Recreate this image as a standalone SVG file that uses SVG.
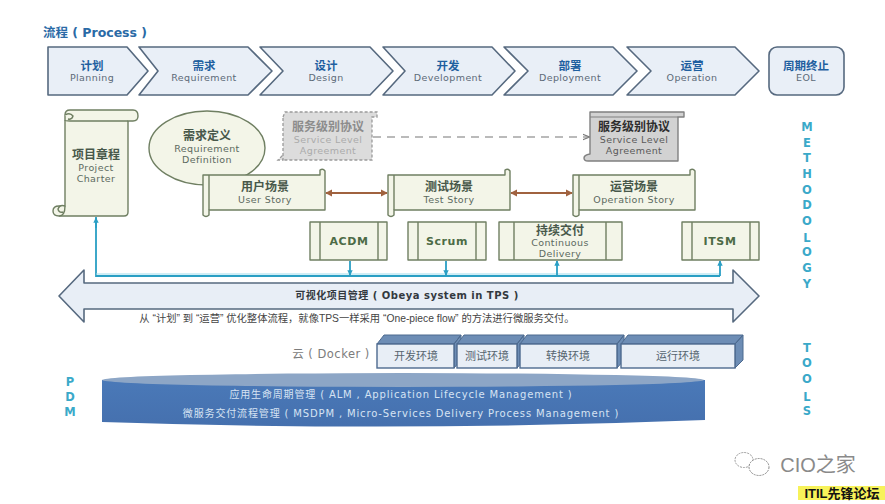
<svg xmlns="http://www.w3.org/2000/svg" width="885" height="504" viewBox="0 0 885 504">
<style>
text{font-family:"DejaVu Sans","Noto Sans CJK SC",sans-serif;text-anchor:middle}
.cn{font-size:11.5px;font-weight:bold;fill:#1f5f9f}
.en{font-size:9.5px;letter-spacing:.4px;fill:#5c6a78}
.p{fill:#e9eff7;stroke:#56697f;stroke-width:1.6;stroke-linejoin:round}
.sc{fill:#f3f5e8;stroke:#6f7f62;stroke-width:1.4;stroke-linejoin:round}
.scn{font-size:12px;font-weight:bold;fill:#48584a}
.sen{font-size:9.5px;letter-spacing:.4px;fill:#5c6a60}
.big{font-size:11px;font-weight:bold;fill:#4d6b46;letter-spacing:.6px}
.v{font-size:11.5px;font-weight:bold;fill:#3aa9c9}
.env{font-size:11px;fill:#56646f}
.cy{stroke:#2a9fc4;stroke-width:1.8;fill:none}
.cyl{font-size:10px;fill:#d6e3f3;letter-spacing:.85px}
</style>
<defs>
<marker id="br" viewBox="0 0 8 8" refX="7" refY="4" markerWidth="4" markerHeight="4" orient="auto-start-reverse"><path d="M0 0L8 4L0 8z" fill="#a0623f"/></marker>
<marker id="bl" viewBox="0 0 8 8" refX="7" refY="4" markerWidth="3" markerHeight="3" orient="auto"><path d="M0 0L8 4L0 8z" fill="#2a9fc4"/></marker>
<marker id="gr" viewBox="0 0 8 8" refX="7" refY="4" markerWidth="6" markerHeight="6" orient="auto"><path d="M0 1L8 4L0 7" fill="none" stroke="#777" stroke-width="1.3"/></marker>
<linearGradient id="cyb" x1="0" y1="0" x2="0" y2="1"><stop offset="0" stop-color="#4a79b8"/><stop offset="1" stop-color="#4570ae"/></linearGradient>
</defs>
<rect width="885" height="504" fill="#fff"/>

<text id="title" x="95" y="37" font-size="12.5" font-weight="bold" fill="#2a6aa6">流程 ( Process )</text>

<g id="process-planning"><path class="p" d="M48 47H127L148 71L127 95H48Z"/><text class="cn" x="92" y="70">计划</text><text class="en" x="92" y="81">Planning</text></g>
<g id="process-requirement"><path class="p" d="M139 47H248L272 71L248 95H139L158 71Z"/><text class="cn" x="204" y="70">需求</text><text class="en" x="204" y="81">Requirement</text></g>
<g id="process-design"><path class="p" d="M260 47H370L393 71L370 95H260L283 71Z"/><text class="cn" x="326" y="70">设计</text><text class="en" x="326" y="81">Design</text></g>
<g id="process-development"><path class="p" d="M383 47H492L515 71L492 95H383L405 71Z"/><text class="cn" x="448" y="70">开发</text><text class="en" x="448" y="81">Development</text></g>
<g id="process-deployment"><path class="p" d="M504 47H613L637 71L613 95H504L528 71Z"/><text class="cn" x="570" y="70">部署</text><text class="en" x="570" y="81">Deployment</text></g>
<g id="process-operation"><path class="p" d="M627 47H735L759 71L735 95H627L651 71Z"/><text class="cn" x="692" y="70">运营</text><text class="en" x="692" y="81">Operation</text></g>
<g id="process-eol"><rect class="p" x="769" y="47" width="75" height="48" rx="8"/><text class="cn" x="806" y="70">周期终止</text><text class="en" x="806" y="81">EOL</text></g>

<g id="connectors">
<path d="M96 217V276H720" class="cy"/>
<path d="M96 274H720" stroke="#9fdcec" stroke-width="1" fill="none"/>
<path d="M96 228V218" class="cy" marker-end="url(#bl)"/>
<path d="M350 261V275" class="cy" marker-end="url(#bl)"/>
<path d="M446 261V275" class="cy" marker-end="url(#bl)"/>
<path d="M557 276V261" class="cy" marker-end="url(#bl)"/>
<path d="M720 276V261" class="cy" marker-end="url(#bl)"/>
<path d="M326 193H387" stroke="#a0623f" stroke-width="1.8" marker-start="url(#br)" marker-end="url(#br)"/>
<path d="M511 193H572" stroke="#a0623f" stroke-width="1.8" marker-start="url(#br)" marker-end="url(#br)"/>
<path d="M373 137H589" stroke="#777" stroke-width="1.2" stroke-dasharray="8 6" fill="none" marker-end="url(#gr)"/>
</g>

<g id="project-charter">
<path class="sc" d="M65 120V206H59Q53 206 53 211Q53 216 59 216H124Q128 216 128 212V121H133Q138 121 138 116Q138 110 133 110H70Q65 110 65 115Z"/>
<path class="sc" fill="none" d="M65 120Q65 121 70 121H128M65 115Q70 112 73 116Q72 120 68 119M65 206Q65 216 59 216M65 206Q60 204 58 209Q59 213 63 212"/>
<text class="scn" x="96" y="159">项目章程</text><text class="sen" x="96" y="171">Project</text><text class="sen" x="96" y="182">Charter</text>
</g>

<g id="requirement-definition">
<ellipse class="sc" cx="207" cy="148" rx="58" ry="37"/>
<text class="scn" x="207" y="140">需求定义</text><text class="sen" x="207" y="152">Requirement</text><text class="sen" x="207" y="163">Definition</text>
</g>

<g id="sla-draft">
<path d="M283 118V160H278L283 155M283 117L285 112H377V117H372V160H283" fill="#dcdcdc" stroke="#9a9a9a" stroke-width="1.3" stroke-dasharray="3 2"/>
<text class="scn" x="328" y="131" style="fill:#8c8c8c">服务级别协议</text><text class="sen" style="fill:#ababab" x="328" y="143">Service Level</text><text class="sen" style="fill:#ababab" x="328" y="154">Agreement</text>
</g>
<g id="sla">
<path d="M590 112H684V117H678V161H588Q584 161 584 158Q584 155 590 154Z" fill="#d2d2d2" stroke="#808080" stroke-width="1.4" stroke-linejoin="round"/>
<path d="M590 117H678" stroke="#808080" fill="none"/>
<text class="scn" x="634" y="131" style="fill:#2e2e2e">服务级别协议</text><text class="sen" style="fill:#5a5a5a" x="634" y="143">Service Level</text><text class="sen" style="fill:#5a5a5a" x="634" y="154">Agreement</text>
</g>

<g id="user-story">
<path class="sc" d="M209 175H320V170Q323 168 325 171V210H209V215Q206 218 203 215V175Z"/>
<path class="sc" d="M209 175V210"/>
<text class="scn" x="265" y="191">用户场景</text><text class="sen" x="265" y="203">User Story</text>
</g>
<g id="test-story">
<path class="sc" d="M394 175H505V170Q508 168 510 171V210H394V215Q391 218 388 215V175Z"/>
<path class="sc" d="M394 175V210"/>
<text class="scn" x="449" y="191">测试场景</text><text class="sen" x="449" y="203">Test Story</text>
</g>
<g id="operation-story">
<path class="sc" d="M579 175H690V170Q693 168 695 171V210H579V215Q576 218 573 215V175Z"/>
<path class="sc" d="M579 175V210"/>
<text class="scn" x="634" y="191">运营场景</text><text class="sen" x="634" y="203">Operation Story</text>
</g>

<g id="acdm"><rect class="sc" x="310" y="222" width="77" height="38"/><path class="sc" d="M320 222V260M378 222V260"/><text class="big" x="349" y="245">ACDM</text></g>
<g id="scrum"><rect class="sc" x="408" y="222" width="78" height="38"/><path class="sc" d="M418 222V260M476 222V260"/><text class="big" x="447" y="245">Scrum</text></g>
<g id="continuous-delivery"><rect class="sc" x="499" y="222" width="123" height="38"/><path class="sc" d="M514 222V260M606 222V260"/><text class="scn" x="560" y="235">持续交付</text><text class="sen" x="560" y="246">Continuous</text><text class="sen" x="560" y="257">Delivery</text></g>
<g id="itsm"><rect class="sc" x="682" y="222" width="77" height="38"/><path class="sc" d="M692 222V260M750 222V260"/><text class="big" x="720" y="245">ITSM</text></g>

<g id="obeya">
<path d="M59 296L84 270V283H733V270L759 296L733 322V309H84V322Z" fill="#e8eef6" stroke="#56697f" stroke-width="1.6" stroke-linejoin="round"/>
<text x="407" y="299" font-size="10" font-weight="bold" fill="#33393f" letter-spacing=".5">可视化项目管理 ( Obeya system in TPS )</text>
<text x="357" y="322" font-size="10.3" fill="#444" style="font-family:'Liberation Sans','Noto Sans CJK SC',sans-serif">从 “计划” 到 “运营” 优化整体流程，就像TPS一样采用 “One-piece flow” 的方法进行微服务交付。</text>
</g>

<text id="docker-label" x="331" y="358" font-size="11.5" fill="#7c7c7c" letter-spacing=".5">云 ( Docker )</text>
<g id="env-dev"><path d="M377 344L384 335H461L454 344ZM454 344L461 335V360L454 368Z" fill="#6d8db5" stroke="#4d6a8f"/><rect x="377" y="344" width="77" height="24" fill="#e8eef6" stroke="#4d6a8f" stroke-width="1.4"/><text class="env" x="416" y="360">开发环境</text></g>
<g id="env-test"><path d="M457 344L464 335H524L517 344ZM517 344L524 335V360L517 368Z" fill="#6d8db5" stroke="#4d6a8f"/><rect x="457" y="344" width="60" height="24" fill="#e8eef6" stroke="#4d6a8f" stroke-width="1.4"/><text class="env" x="487" y="360">测试环境</text></g>
<g id="env-transform"><path d="M520 344L527 335H624L617 344ZM617 344L624 335V360L617 368Z" fill="#6d8db5" stroke="#4d6a8f"/><rect x="520" y="344" width="97" height="24" fill="#e8eef6" stroke="#4d6a8f" stroke-width="1.4"/><text class="env" x="568" y="360">转换环境</text></g>
<g id="env-run"><path d="M621 344L628 335H743L735 344ZM735 344L743 335V360L735 368Z" fill="#6d8db5" stroke="#4d6a8f"/><rect x="621" y="344" width="114" height="24" fill="#e8eef6" stroke="#4d6a8f" stroke-width="1.4"/><text class="env" x="678" y="360">运行环境</text></g>

<g id="platform">
<path d="M102 380V422Q403 432 705 420V380Z" fill="url(#cyb)"/>
<ellipse cx="403" cy="380" rx="301" ry="7" fill="#8da6c6"/>
<text class="cyl" x="401" y="398">应用生命周期管理 ( ALM , Application Lifecycle Management )</text>
<text class="cyl" x="401" y="417">微服务交付流程管理 ( MSDPM , Micro-Services Delivery Process Management )</text>
</g>

<g id="label-pdm"><text class="v" x="70" y="386">P</text><text class="v" x="70" y="401">D</text><text class="v" x="70" y="416">M</text></g>
<g id="label-methodology"><text class="v" x="807" y="131">M</text><text class="v" x="807" y="147">E</text><text class="v" x="807" y="162">T</text><text class="v" x="807" y="178">H</text><text class="v" x="807" y="194">O</text><text class="v" x="807" y="209">D</text><text class="v" x="807" y="225">O</text><text class="v" x="807" y="242">L</text><text class="v" x="807" y="256">O</text><text class="v" x="807" y="272">G</text><text class="v" x="807" y="288">Y</text></g>
<g id="label-tools"><text class="v" x="807" y="352">T</text><text class="v" x="807" y="367">O</text><text class="v" x="807" y="383">O</text><text class="v" x="807" y="401">L</text><text class="v" x="807" y="415">S</text></g>

<g id="watermark">
<ellipse cx="744" cy="460" rx="9" ry="7.5" fill="#fff" stroke="#999" stroke-width="1" stroke-dasharray="2 1"/>
<ellipse cx="759" cy="467" rx="10" ry="8.5" fill="#fff" stroke="#888" stroke-width="1" stroke-dasharray="2 1"/>
<text x="818" y="472" font-size="20" fill="#8a8a8a" style="font-family:'Liberation Sans','Noto Sans CJK SC',sans-serif">CIO之家</text>
</g>
<g id="forum-mark">
<rect x="798" y="486" width="87" height="14" fill="#f7f25a"/>
<text x="842" y="498" font-size="13" font-weight="bold" fill="#111" style="font-family:'Liberation Sans','Noto Sans CJK SC',sans-serif">ITIL先锋论坛</text>
</g>
</svg>
